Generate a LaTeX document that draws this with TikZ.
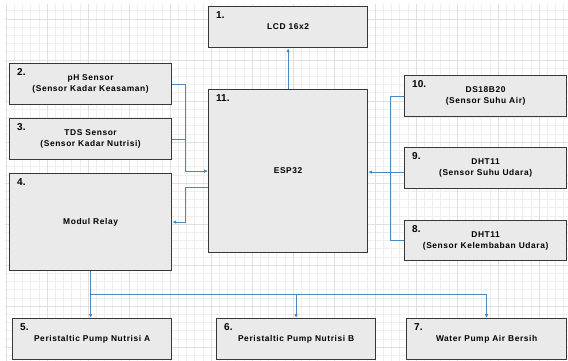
\documentclass[tikz,border=0pt]{standalone}
\usepackage{fontspec}
\setmainfont{Liberation Sans}
\newfontfamily\boxfont[LetterSpace=7]{Liberation Sans}
\usetikzlibrary{arrows.meta,positioning}
\definecolor{boxfill}{HTML}{EAEAEA}
\definecolor{boxline}{HTML}{383838}
\definecolor{wireblue}{HTML}{4A88C0}
\definecolor{gridminor}{HTML}{EFEFEF}
\definecolor{gridmajor}{HTML}{E0E0E0}

\begin{document}
\begin{tikzpicture}[
  x=1pt,y=-1pt,
  block/.style={draw=boxline,line width=1.2pt,fill=boxfill,anchor=north west,inner sep=0pt,align=center,
    font=\boxfont\bfseries\fontsize{8.4}{11}\selectfont},
  num/.style={anchor=north west,inner sep=0pt,xshift=8pt,yshift=-5pt,font=\bfseries\fontsize{10}{12}\selectfont},
  wire/.style={draw=wireblue,line width=0.8pt},
  link/.style={wire,-{Latex[length=4pt,width=3.6pt]}}
]
\useasboundingbox (0,0) rectangle (568,361);
\fill[white] (0,0) rectangle (568,361);
% background grid
\begin{scope}
  \clip (5,5) rectangle (568,361);
  \draw[gridminor,line width=0.6pt,step=8.2pt,xshift=6pt,yshift=22pt] (-60,420) grid (620,-60);
  \draw[gridmajor,line width=0.8pt,step=41pt,xshift=6pt,yshift=22pt] (-60,420) grid (620,-60);
\end{scope}

% blocks
\node[block,minimum width=159pt,minimum height=41pt,label={[num]north west:1.}] (lcd) at (208,6) {LCD 16x2};
\node[block,minimum width=162pt,minimum height=41pt,label={[num]north west:2.}] (ph) at (9,63) {pH Sensor\\(Sensor Kadar Keasaman)};
\node[block,minimum width=162pt,minimum height=41pt,label={[num]north west:3.}] (tds) at (9,118) {TDS Sensor\\(Sensor Kadar Nutrisi)};
\node[block,minimum width=162pt,minimum height=97pt,label={[num]north west:4.}] (relay) at (9,173) {Modul Relay};
\node[block,minimum width=159pt,minimum height=163pt,label={[num]north west:11.}] (esp) at (208,89) {ESP32};
\node[block,minimum width=162pt,minimum height=41pt,label={[num]north west:10.}] (ds) at (404,75) {DS18B20\\(Sensor Suhu Air)};
\node[block,minimum width=162pt,minimum height=41pt,label={[num]north west:9.}] (dhtsuhu) at (404,147) {DHT11\\(Sensor Suhu Udara)};
\node[block,minimum width=162pt,minimum height=40pt,label={[num]north west:8.}] (dhtlembab) at (404,220) {DHT11\\(Sensor Kelembaban Udara)};
\node[block,minimum width=159pt,minimum height=41pt,label={[num]north west:5.}] (pumpa) at (12,318) {Peristaltic Pump Nutrisi A};
\node[block,minimum width=159pt,minimum height=41pt,label={[num]north west:6.}] (pumpb) at (216,318) {Peristaltic Pump Nutrisi B};
\node[block,minimum width=160pt,minimum height=41pt,label={[num]north west:7.}] (water) at (406,318) {Water Pump Air Bersih};

% bus lines
\coordinate (lbus) at (185,0);
\coordinate (rbus) at (390,0);
\coordinate (bbus) at (0,294);

% connectors
\draw[link] (esp.north) -- (esp.north |- lcd.south);
\draw[link] (ph.east) -- (ph.east -| lbus) |- (esp.west);
\draw[wire] (tds.east) -- (tds.east -| lbus);
\draw[link] ([yshift=-16pt]esp.west) -- ([yshift=-16pt]esp.west -| lbus) |- (relay.east);
\draw[wire] (ds.west) -- (ds.west -| rbus) |- (dhtlembab.west);
\draw[link] ([yshift=-4pt]dhtsuhu.west) -- ([yshift=-4pt]dhtsuhu.west -| esp.east);
\draw[link] (relay.south) -- (relay.south |- pumpa.north);
\draw[link] (relay.south |- bbus) -| (water.north);
\draw[link] (pumpb.north |- bbus) -- (pumpb.north);
\end{tikzpicture}
\end{document}
